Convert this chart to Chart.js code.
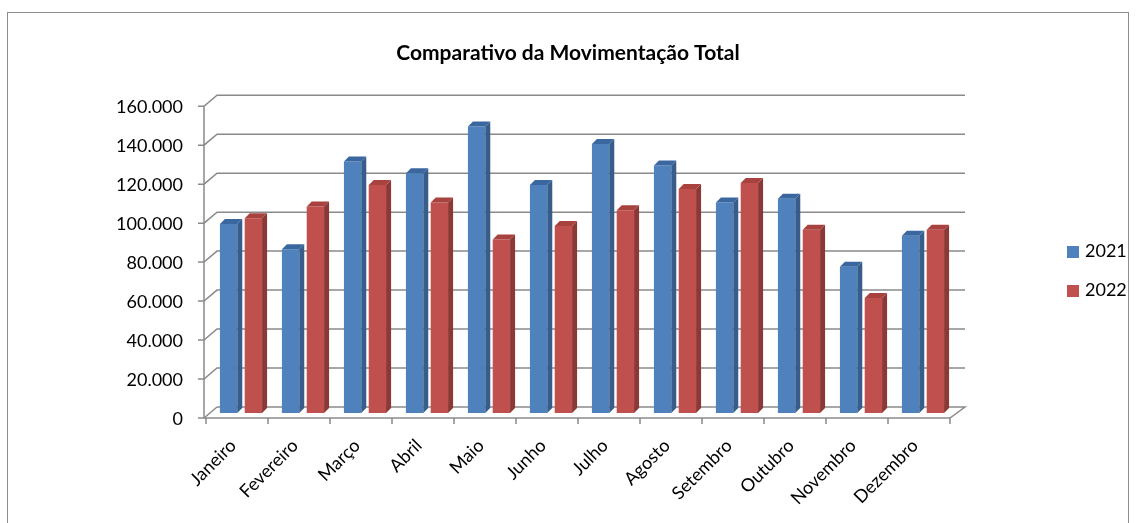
<!DOCTYPE html>
<html>
<head>
<meta charset="utf-8">
<script src="https://cdn.jsdelivr.net/npm/chart.js@4.4.1/dist/chart.umd.min.js"></script>
<style>
  body { margin: 0; background: #fff; overflow: hidden; }
  #wrap { position: relative; width: 1136px; height: 523px; }
  #frame { position: absolute; left: 7px; top: 12px; width: 1120px; height: 600px; border: 1px solid #8c8c8c; }
  canvas { position: absolute; left: 0; top: 0; }
  #legend { position: absolute; left: 1067px; top: 238px; font-family: Lato, 'Open Sans', sans-serif; font-size: 18px; color: #000; }
  #legend div { height: 39px; line-height: 24px; white-space: nowrap; }
  #legend span.box { display: inline-block; width: 12px; height: 12px; margin-right: 6px; vertical-align: -1px; }
</style>
</head>
<body>
<div id="wrap">
  <div id="frame"></div>
  <canvas id="myChart" width="1136" height="523"></canvas>
  <div id="legend"></div>
</div>
<script>
// Data
var months = ["Janeiro", "Fevereiro", "Março", "Abril", "Maio", "Junho", "Julho", "Agosto", "Setembro", "Outubro", "Novembro", "Dezembro"];
var values2021 = [97000, 84000, 129000, 123000, 147000, 117000, 138000, 127000, 108000, 110000, 75000, 91000];
var values2022 = [100000, 106000, 117000, 108000, 89000, 96000, 104000, 115000, 118000, 94000, 59000, 94000];
var yTicks = [0, 20000, 40000, 60000, 80000, 100000, 120000, 140000, 160000];

var fontName = "Lato, 'Open Sans', sans-serif";
var gridColor = "#8a8a8a";

function formatThousands(v) {
	return String(v).replace(/\B(?=(\d{3})+(?!\d))/g, ".");
}

// fake 3d: side and top faces for every bar
var depthX = 5;
var depthY = 5;
var faces = [
	{ side: "#385d8a", top: "#3a67a0" },
	{ side: "#8c3836", top: "#a8423f" }
];

function drawFaces(ctx, bar, c) {
	var p = bar.getProps(["x", "y", "base", "width"], true);
	var l = p.x - p.width / 2, r = p.x + p.width / 2;
	ctx.fillStyle = c.side;
	ctx.beginPath();
	ctx.moveTo(r, p.y);
	ctx.lineTo(r + depthX, p.y - depthY);
	ctx.lineTo(r + depthX, p.base - depthY);
	ctx.lineTo(r, p.base);
	ctx.closePath();
	ctx.fill();
	ctx.fillStyle = c.top;
	ctx.beginPath();
	ctx.moveTo(l, p.y);
	ctx.lineTo(l + depthX, p.y - depthY);
	ctx.lineTo(r + depthX, p.y - depthY);
	ctx.lineTo(r, p.y);
	ctx.closePath();
	ctx.fill();
}

// draw the bars left to right, each with its faces, so the nearer bar covers the side of the one before
var bar3d = {
	id: "bar3d",
	beforeDatasetsDraw: function(chart) {
		var ctx = chart.ctx;
		var metas = [chart.getDatasetMeta(0), chart.getDatasetMeta(1)];
		ctx.save();
		for (var i = 0; i < months.length; i++) {
			metas.forEach(function(meta, d) {
				var bar = meta.data[i];
				bar.draw(ctx, chart.chartArea);
				drawFaces(ctx, bar, faces[d]);
			});
		}
		ctx.restore();
		return false;
	}
};

// back wall gridlines, floor and front axis
var walls = {
	id: "walls",
	beforeDatasetsDraw: function(chart) {
		var ctx = chart.ctx;
		var area = chart.chartArea;
		var ys = chart.scales.y;
		var xs = chart.scales.x;
		var frontX = area.left - 6, backX = area.left + 7, backRight = area.right + 11;
		ctx.save();
		ctx.strokeStyle = gridColor;
		ctx.lineWidth = 1.5;
		yTicks.forEach(function(v) {
			var yp = ys.getPixelForValue(v);
			ctx.beginPath();
			ctx.moveTo(frontX - 6, yp + 5);
			ctx.lineTo(frontX, yp + 5);
			ctx.lineTo(backX, yp - 6);
			if (v !== 0) ctx.lineTo(backRight, yp - 6);
			ctx.stroke();
		});
		var y0 = ys.getPixelForValue(0);
		var yTop = ys.getPixelForValue(yTicks[yTicks.length - 1]);
		// front vertical axis
		ctx.beginPath();
		ctx.moveTo(frontX, yTop + 5);
		ctx.lineTo(frontX, y0 + 5);
		ctx.stroke();
		// floor
		ctx.beginPath();
		ctx.moveTo(frontX, y0 + 5);
		ctx.lineTo(area.right - 4, y0 + 5);
		ctx.lineTo(backRight, y0 - 6);
		ctx.lineTo(backX, y0 - 6);
		ctx.stroke();
		// category ticks
		var step = xs.width / months.length;
		for (var i = 0; i <= months.length; i++) {
			var xp = area.left + i * step;
			ctx.beginPath();
			ctx.moveTo(xp - 4, y0 + 5);
			ctx.lineTo(xp - 4, y0 + 11);
			ctx.stroke();
		}
		ctx.restore();
	}
};

var ctx = document.getElementById("myChart");
var myChart = new Chart(ctx, {
	type: "bar",
	data: {
		labels: months,
		datasets: [
			{
				label: "2021",
				data: values2021,
				backgroundColor: "#4f81bd",
				categoryPercentage: 0.8,
				barPercentage: 0.7
			},
			{
				label: "2022",
				data: values2022,
				backgroundColor: "#c0504d",
				categoryPercentage: 0.8,
				barPercentage: 0.7
			}
		]
	},
	options: {
		responsive: false,
		animation: false,
		layout: { padding: 0 },
		plugins: {
			title: {
				display: true,
				text: "Comparativo da Movimentação Total",
				color: "#000",
				font: { family: fontName, size: 21, weight: "bold" },
				padding: { top: 41, bottom: 35 }
			},
			legend: { display: false },
			tooltip: { enabled: false }
		},
		scales: {
			x: {
				grid: { display: false },
				border: { display: false },
				afterFit: function(scale) { scale.height = 110; },
				ticks: {
					color: "#000",
					font: { family: fontName, size: 18 },
					minRotation: 45,
					maxRotation: 45,
					padding: 14,
					labelOffset: -8
				}
			},
			y: {
				min: 0,
				max: 160000,
				grid: { display: false },
				border: { display: false },
				afterFit: function(scale) { scale.width = 210; },
				afterBuildTicks: function(scale) {
					scale.ticks = yTicks.map(function(v) { return { value: v }; });
				},
				ticks: {
					color: "#000",
					font: { family: fontName, size: 18 },
					padding: 19,
					labelOffset: 6,
					callback: function(v) { return formatThousands(v); }
				}
			},
			// empty axis on the right that keeps room for the legend
			side: {
				position: "right",
				min: 0,
				max: 1,
				grid: { display: false },
				border: { display: false },
				ticks: { display: false },
				afterFit: function(scale) { scale.width = 182; }
			}
		}
	},
	plugins: [walls, bar3d]
});

// legend as html, built from the datasets
var legendBox = document.getElementById("legend");
myChart.data.datasets.forEach(function(ds) {
	var row = document.createElement("div");
	var box = document.createElement("span");
	box.className = "box";
	box.style.background = ds.backgroundColor;
	row.appendChild(box);
	row.appendChild(document.createTextNode(ds.label));
	legendBox.appendChild(row);
});
</script>
</body>
</html>
